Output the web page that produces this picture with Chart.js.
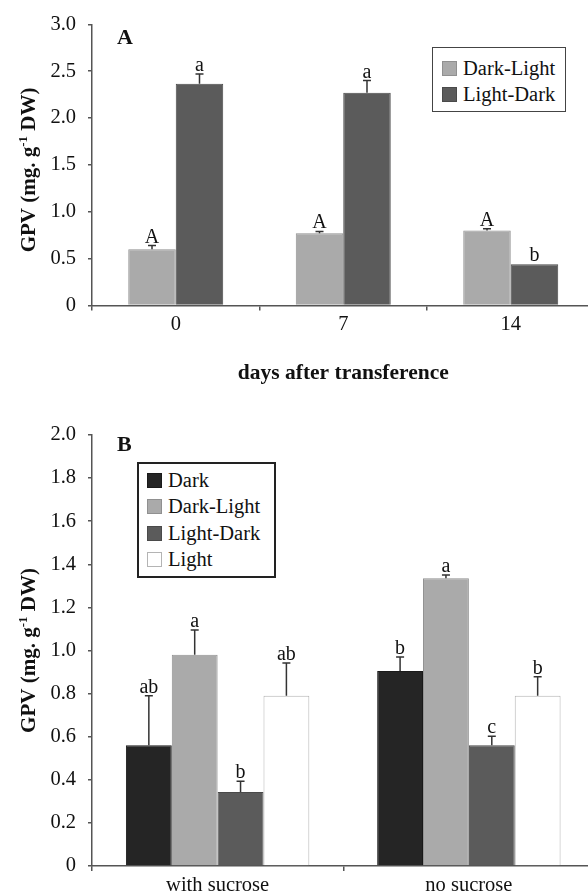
<!DOCTYPE html>
<html>
<head>
<meta charset="utf-8">
<title>GPV</title>
<script src="https://cdn.jsdelivr.net/npm/chart.js@4.4.0/dist/chart.umd.min.js"></script>
<style>
  html, body { margin: 0; padding: 0; background: #fff; overflow: hidden; }
  #page { position: relative; width: 600px; height: 893px; font-family: "Liberation Serif", "Times New Roman", serif; color: #111; }
  canvas { position: absolute; left: 0; }
  #chartA { top: 0; }
  #chartB { top: 400px; }
  .tag { position: absolute; font-weight: bold; font-size: 22px; line-height: 1; }
  .legend { position: absolute; background: #fff; font-size: 20.5px; box-sizing: border-box; }
  .legend .row { display: flex; align-items: center; white-space: nowrap; }
  .legend .sw { width: 15px; height: 15px; box-sizing: border-box; border: 1px solid; margin-right: 6px; flex: none; }
  #legendA { left: 432px; top: 47px; width: 134px; height: 65px; border: 1.5px solid #444; padding: 7px 0 0 9px; }
  #legendA .row { height: 26px; }
  #legendB { left: 137px; top: 462px; width: 139px; height: 116px; border: 2px solid #222; padding: 3px 0 0 8px; }
  #legendB .row { height: 26.5px; }
</style>
</head>
<body>
<div id="page">
  <canvas id="chartA" width="600" height="400"></canvas>
  <canvas id="chartB" width="600" height="493"></canvas>
  <div class="tag" style="left:117px; top:26px;">A</div>
  <div class="tag" style="left:117px; top:433px;">B</div>
  <div class="legend" id="legendA"></div>
  <div class="legend" id="legendB"></div>
</div>
<script>
// ---- panel A: days after transference ----
const daysLabels = ['0', '7', '14'];
const darkLightA = [0.60, 0.77, 0.80];
const darkLightAErr = [0.04, 0.02, 0.02];
const darkLightALetters = ['A', 'A', 'A'];
const lightDarkA = [2.365, 2.27, 0.44];
const lightDarkAErr = [0.105, 0.13, 0];
const lightDarkALetters = ['a', 'a', 'b'];
const ticksA = [0, 0.5, 1.0, 1.5, 2.0, 2.5, 3.0];

// ---- panel B: sucrose treatment ----
const sucroseLabels = ['with sucrose', 'no sucrose'];
const darkB = [0.56, 0.905];
const darkBErr = [0.23, 0.065];
const darkBLetters = ['ab', 'b'];
const darkLightB = [0.98, 1.335];
const darkLightBErr = [0.115, 0.015];
const darkLightBLetters = ['a', 'a'];
const lightDarkB = [0.343, 0.56];
const lightDarkBErr = [0.05, 0.042];
const lightDarkBLetters = ['b', 'c'];
const lightB = [0.79, 0.79];
const lightBErr = [0.152, 0.088];
const lightBLetters = ['ab', 'b'];
const ticksB = [0, 0.2, 0.4, 0.6, 0.8, 1.0, 1.2, 1.4, 1.6, 1.8, 2.0];

const FONT = '"Liberation Serif", "Times New Roman", serif';
const AXIS = '#555';
const INK = '#111';

const colors = {
  'Dark':       { bg: '#252525', border: '#1a1a1a' },
  'Dark-Light': { bg: '#aaaaaa', border: '#909090' },
  'Light-Dark': { bg: '#5b5b5b', border: '#4a4a4a' },
  'Light':      { bg: '#ffffff', border: '#b4b4b4' }
};

function series(label, data, errors, letters) {
  return {
    label, data, errors, letters,
    backgroundColor: colors[label].bg,
    borderColor: colors[label].border,
    borderWidth: 1
  };
}

// upper error bars + significance letters above every bar
const errorBars = {
  id: 'errorBars',
  afterDatasetsDraw(chart) {
    const { ctx } = chart;
    const y = chart.scales.y;
    ctx.save();
    chart.data.datasets.forEach((ds, i) => {
      chart.getDatasetMeta(i).data.forEach((bar, j) => {
        const err = ds.errors[j];
        const top = y.getPixelForValue(ds.data[j] + err);
        if (err > 0) {
          ctx.strokeStyle = '#333';
          ctx.lineWidth = 1.5;
          ctx.beginPath();
          ctx.moveTo(bar.x, bar.y);
          ctx.lineTo(bar.x, top);
          ctx.moveTo(bar.x - 4, top);
          ctx.lineTo(bar.x + 4, top);
          ctx.stroke();
        }
        ctx.fillStyle = INK;
        ctx.font = '20px ' + FONT;
        ctx.textAlign = 'center';
        ctx.textBaseline = 'alphabetic';
        ctx.fillText(ds.letters[j], bar.x, top - 3);
      });
    });
    ctx.restore();
  }
};

// rotated y title with the superscript unit
const yTitle = {
  id: 'yTitle',
  afterDraw(chart, args, opts) {
    const { ctx, chartArea } = chart;
    const big = 'bold 21px ' + FONT;
    const small = 'bold 13px ' + FONT;
    const parts = [['GPV (mg. g', big, 0], ['-1', small, -8], [' DW)', big, 0]];
    ctx.save();
    let total = 0;
    parts.forEach(p => { ctx.font = p[1]; total += ctx.measureText(p[0]).width; });
    ctx.translate(opts.x, (chartArea.top + chartArea.bottom) / 2 + opts.shift);
    ctx.rotate(-Math.PI / 2);
    ctx.fillStyle = INK;
    ctx.textBaseline = 'alphabetic';
    let x = -total / 2;
    parts.forEach(p => {
      ctx.font = p[1];
      ctx.fillText(p[0], x, 7 + p[2]);
      x += ctx.measureText(p[0]).width;
    });
    ctx.restore();
  }
};

function yScale(max, tickList, width) {
  return {
    min: 0, max,
    afterBuildTicks: s => { s.ticks = tickList.map(v => ({ value: v })); },
    afterFit: s => { s.width = width; },
    ticks: {
      color: INK, padding: 12,
      font: { family: FONT, size: 20.5 },
      callback: v => (v === 0 ? '0' : v.toFixed(1))
    },
    grid: { drawOnChartArea: false, tickLength: 4, color: AXIS, lineWidth: 1.5 },
    border: { color: AXIS, width: 1.5 }
  };
}

function xScale(height, title) {
  const s = {
    afterFit: sc => { sc.height = height; },
    ticks: { color: INK, padding: 2, font: { family: FONT, size: 20.5 } },
    grid: { drawOnChartArea: false, tickLength: 5, color: AXIS, lineWidth: 1.5, offset: true },
    border: { color: AXIS, width: 1.5 }
  };
  if (title) {
    s.title = {
      display: true, text: title, color: INK,
      font: { family: FONT, size: 21.5, weight: 'bold' },
      padding: { top: 0, bottom: 14 }
    };
  }
  return s;
}

function buildLegend(el, chart) {
  chart.data.datasets.forEach(ds => {
    const row = document.createElement('div');
    row.className = 'row';
    const sw = document.createElement('span');
    sw.className = 'sw';
    sw.style.background = ds.backgroundColor;
    sw.style.borderColor = ds.borderColor;
    row.appendChild(sw);
    row.appendChild(document.createTextNode(ds.label));
    el.appendChild(row);
  });
}

const chartA = new Chart(document.getElementById('chartA'), {
  type: 'bar',
  data: {
    labels: daysLabels,
    datasets: [
      series('Dark-Light', darkLightA, darkLightAErr, darkLightALetters),
      series('Light-Dark', lightDarkA, lightDarkAErr, lightDarkALetters)
    ]
  },
  options: {
    responsive: false, animation: false, devicePixelRatio: 1,
    layout: { padding: { top: 22, right: 5.5, left: 0, bottom: 0 } },
    datasets: { bar: { categoryPercentage: 0.567, barPercentage: 1 } },
    plugins: { legend: { display: false }, tooltip: { enabled: false }, yTitle: { x: 28, shift: 5 } },
    scales: { x: xScale(94.5, 'days after transference'), y: yScale(3, ticksA, 92) }
  },
  plugins: [errorBars, yTitle]
});

const chartB = new Chart(document.getElementById('chartB'), {
  type: 'bar',
  data: {
    labels: sucroseLabels,
    datasets: [
      series('Dark', darkB, darkBErr, darkBLetters),
      series('Dark-Light', darkLightB, darkLightBErr, darkLightBLetters),
      series('Light-Dark', lightDarkB, lightDarkBErr, lightDarkBLetters),
      series('Light', lightB, lightBErr, lightBLetters)
    ]
  },
  options: {
    responsive: false, animation: false, devicePixelRatio: 1,
    layout: { padding: { top: 35, right: 5.5, left: 0, bottom: 0 } },
    datasets: { bar: { categoryPercentage: 0.73, barPercentage: 1 } },
    plugins: { legend: { display: false }, tooltip: { enabled: false }, yTitle: { x: 28, shift: 0 } },
    scales: { x: xScale(27, null), y: yScale(2, ticksB, 92) }
  },
  plugins: [errorBars, yTitle]
});

buildLegend(document.getElementById('legendA'), chartA);
buildLegend(document.getElementById('legendB'), chartB);
</script>
</body>
</html>
